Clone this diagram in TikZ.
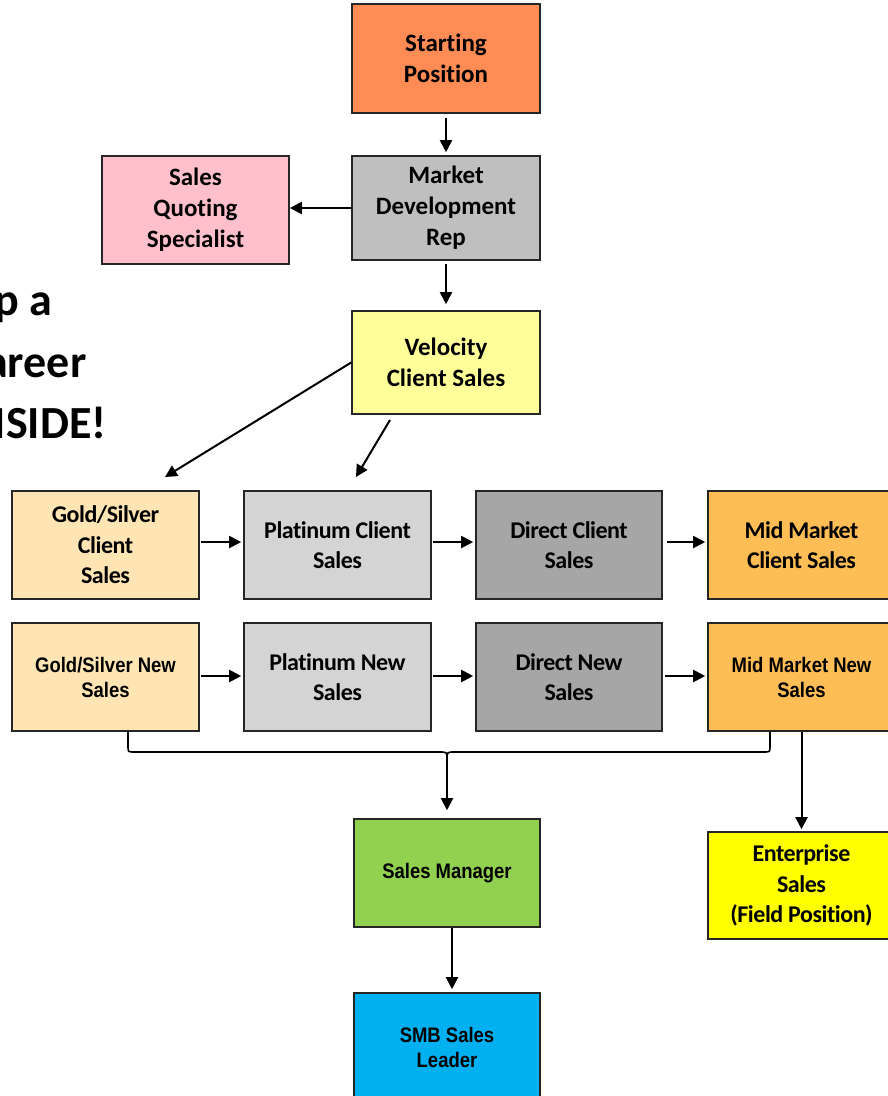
\documentclass[tikz,border=0pt]{standalone}
\usepackage{fontspec}
\setmainfont{Carlito}[RawFeature={-liga}]
\newfontfamily\topfont{Carlito}[RawFeature={-liga}]
\newfontfamily\rowfont{Carlito}[LetterSpace=-2,RawFeature={-liga}]
\newfontfamily\narrowfont{Liberation Sans}[FakeStretch=0.88]
\usetikzlibrary{arrows.meta}
\definecolor{cstart}{HTML}{FF8C55}
\definecolor{cmdr}{HTML}{BFBFBF}
\definecolor{csqs}{HTML}{FFC0CB}
\definecolor{cvel}{HTML}{FFFF99}
\definecolor{cgold}{HTML}{FFE5B4}
\definecolor{cplat}{HTML}{D4D4D4}
\definecolor{cdir}{HTML}{A6A6A6}
\definecolor{cmid}{HTML}{FFBE55}
\definecolor{csm}{HTML}{92D050}
\definecolor{cent}{HTML}{FFFF00}
\definecolor{csmb}{HTML}{00B0F0}
\begin{document}
\begin{tikzpicture}[x=1pt,y=-1pt,
  box/.style={draw=black!85, line width=1.6pt, align=center, inner sep=0pt},
  big/.style={box, font=\topfont\bfseries\fontsize{25}{31}\selectfont},
  rowbox/.style={box, font=\rowfont\bfseries\fontsize{24}{30.5}\selectfont},
  nar/.style={box, font=\narrowfont\bfseries\fontsize{21}{25}\selectfont},
  sz/.style 2 args={minimum width=#1pt, minimum height=#2pt},
  arr/.style={-{Triangle[length=12pt,width=12pt]}, line width=2pt},
  brace/.style={line width=1.6pt},
  slogan/.style={anchor=base east, font=\topfont\bfseries\fontsize{46}{54}\selectfont}]
\useasboundingbox (0,0) rectangle (887,1096);

% slogan (cut at left edge, as in the reference)
\node[slogan] (t1) at (56,315) {p a};
\node[slogan] (t2) at (90,377) {areer};
\node[slogan] (t3) at (110,438) {ISIDE!};

% top column
\node[big, sz={188}{109}, fill=cstart] (start) at (446,58.5) {Starting\\Position};
\node[big, sz={188}{104}, fill=cmdr] (mdr) at (446,208) {Market\\Development\\Rep};
\node[big, sz={187}{108}, fill=csqs] (sqs) at (195.5,210) {Sales\\Quoting\\Specialist};
\node[big, sz={188}{103}, fill=cvel] (vel) at (446,362.5) {Velocity\\Client Sales};

% row 1
\node[rowbox, sz={187}{108}, fill=cgold] (gsc) at (105.5,545) {Gold/Silver\\Client\\Sales};
\node[rowbox, sz={187}{108}, fill=cplat] (pc) at (337.5,545) {Platinum Client\\Sales};
\node[rowbox, sz={186}{108}, fill=cdir] (dc) at (569,545) {Direct Client\\Sales};
\node[rowbox, sz={187}{108}, fill=cmid] (mmc) at (801.5,545) {Mid Market\\Client Sales};

% row 2
\node[nar, sz={187}{108}, fill=cgold] (gsn) at (105.5,677) {Gold/Silver New\\Sales};
\node[rowbox, sz={187}{108}, fill=cplat] (pn) at (337.5,677) {Platinum New\\Sales};
\node[rowbox, sz={186}{108}, fill=cdir] (dn) at (569,677) {Direct New\\Sales};
\node[nar, sz={187}{108}, fill=cmid] (mmn) at (801.5,677) {Mid Market New\\Sales};

% bottom
\node[nar, sz={186}{108}, fill=csm] (sm) at (447,873) {Sales Manager};
\node[rowbox, sz={187}{107}, fill=cent] (ent) at (801.5,885.5) {Enterprise\\Sales\\(Field Position)};
\node[nar, sz={186}{108}, fill=csmb] (smb) at (447,1047) {SMB Sales\\Leader};

% connectors
\draw[arr, shorten <=4pt, shorten >=3pt] (start.south) -- (mdr.north);
\draw[arr] (mdr.west) -- (mdr.west -| sqs.east);
\draw[arr, shorten <=3pt, shorten >=6pt] (mdr.south) -- (vel.north);

\coordinate (g1) at (165,477);
\coordinate (p0) at (390,420);
\coordinate (p1) at (356,477);
\draw[arr] (vel.west) -- (g1);
\draw[arr] (p0) -- (p1);

\draw[arr, shorten <=1pt, shorten >=2pt] ([yshift=3pt]gsc.east) -- ([yshift=3pt]pc.west);
\draw[arr, shorten <=1pt, shorten >=2pt] ([yshift=3pt]pc.east) -- ([yshift=3pt]dc.west);
\draw[arr, shorten <=4pt, shorten >=2pt] ([yshift=3pt]dc.east) -- ([yshift=3pt]mmc.west);

\draw[arr, shorten <=1pt, shorten >=2pt] ([yshift=1pt]gsn.east) -- ([yshift=1pt]pn.west);
\draw[arr, shorten <=1pt, shorten >=2pt] ([yshift=1pt]pn.east) -- ([yshift=1pt]dn.west);
\draw[arr, shorten <=2pt, shorten >=2pt] ([yshift=1pt]dn.east) -- ([yshift=1pt]mmn.west);

% brace collecting row 2
\coordinate (bl) at ([xshift=22.5pt]gsn.south);
\coordinate (br) at ([xshift=-31.5pt]mmn.south);
\coordinate (bm) at (447,760);
\draw[brace] (bl) -- (128,746) .. controls (128,752) .. (134,752) -- (440,752)
  .. controls (447,752) .. (bm) .. controls (447,752) .. (454,752) -- (764,752)
  .. controls (770,752) .. (770,746) -- (br);
\draw[arr, shorten >=8pt] (bm) -- (sm.north);

\draw[arr, shorten >=2pt] (mmn.south) -- (ent.north);
\draw[arr, shorten >=3pt] ([xshift=5pt]sm.south) -- ([xshift=5pt]smb.north);
\end{tikzpicture}
\end{document}
